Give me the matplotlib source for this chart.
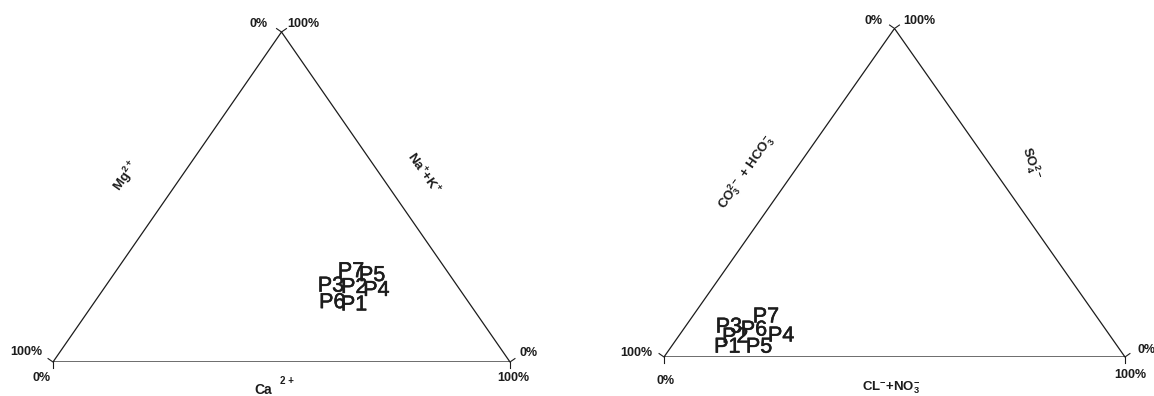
"""
Ternary diagrams of cation and anion composition (percent of meq/L) for
sampling points P1-P7. Left: Mg2+ / Ca2+ / Na+ + K+, right:
CO3 2- + HCO3- / Cl- + NO3- / SO4 2-. Writes out.png.
"""
import matplotlib.patheffects as pe
import matplotlib.pyplot as plt
import numpy as np

plt.rcParams["font.family"] = ["Liberation Sans", "DejaVu Sans"]
plt.rcParams["mathtext.default"] = "regular"

samples = ["P1", "P2", "P3", "P4", "P5", "P6", "P7"]

# cations, % of total
ca = [57.2, 54.6, 49.3, 59.9, 56.7, 52.1, 51.5]
mg = [25.5, 22.8, 27.7, 18.4, 17.1, 29.9, 21.1]
na_k = [17.3, 22.6, 23.0, 21.7, 26.2, 18.0, 27.4]

# anions, % of total
cl_no3 = [12.2, 12.4, 9.5, 22.2, 19.1, 15.4, 16.0]
co3_hco3 = [84.8, 81.5, 81.4, 71.4, 77.9, 76.4, 71.8]
so4 = [3.0, 6.1, 9.1, 6.4, 3.0, 8.2, 12.2]

FIG_W, FIG_H, DPI = 1154, 396, 100
INK = "#1c1c1c"
TICK_PX = 6


def to_xy(right, top):
    """Ternary -> cartesian for a triangle with corners (0,0), (1,0), (0.5,1).
    `right` is the bottom-right component, `top` the apex component (percent)."""
    right = np.asarray(right) / 100.0
    top = np.asarray(top) / 100.0
    return right + 0.5 * top, top


def draw_triangle(ax, box):
    """Outline plus short outward ticks at the corners."""
    ax.plot([0, 1, 0.5, 0], [0, 0, 1, 0], color=INK, lw=0.9, solid_joinstyle="miter")
    w_px, h_px = box[2] * FIG_W, box[3] * FIG_H
    # outward normals in pixel space, converted back to data units
    side_l = np.array([-h_px, 0.5 * w_px]) / np.hypot(h_px, 0.5 * w_px)
    side_r = np.array([h_px, 0.5 * w_px]) / np.hypot(h_px, 0.5 * w_px)
    side_b = np.array([0.0, -1.0])
    corners = {(0.0, 0.0): (side_b, side_l), (1.0, 0.0): (side_b, side_r),
               (0.5, 1.0): (side_l, side_r)}
    for (cx, cy), normals in corners.items():
        for n in normals:
            dx, dy = n * TICK_PX
            ax.plot([cx, cx + dx / w_px], [cy, cy + dy / h_px], color=INK, lw=0.8,
                    clip_on=False)


def corner_labels(ax, offsets):
    """offsets: {(corner x, corner y): [(text, dx px, dy px), ...]}"""
    for (cx, cy), items in offsets.items():
        for text, dx, dy in items:
            ax.annotate(text, (cx, cy), xytext=(dx, dy), textcoords="offset pixels",
                        ha="center", va="center", fontsize=9, fontweight="bold",
                        color=INK, annotation_clip=False)


def side_label(ax, text, anchor, offset, rotation, size=9.5):
    ax.annotate(text, anchor, xytext=offset, textcoords="offset pixels",
                ha="center", va="center", rotation=rotation, fontsize=size,
                fontweight="bold", color=INK, annotation_clip=False)


def sample_labels(ax, x, y):
    heavy = [pe.withStroke(linewidth=0.4, foreground=INK)]
    for name, px, py in zip(samples, x, y):
        ax.text(px, py, name, ha="center", va="center", fontsize=15.5, color=INK,
                clip_on=False, path_effects=heavy)


def setup_axes(fig, box):
    ax = fig.add_axes(box)
    ax.set_xlim(0, 1)
    ax.set_ylim(0, 1)
    ax.axis("off")
    return ax


fig = plt.figure(figsize=(FIG_W / DPI, FIG_H / DPI), dpi=DPI)

# --- cations --------------------------------------------------------------
box_cat = [53 / FIG_W, 34 / FIG_H, 457 / FIG_W, 330 / FIG_H]
ax1 = setup_axes(fig, box_cat)
draw_triangle(ax1, box_cat)
corner_labels(ax1, {
    (0.5, 1.0): [("0%", -23, 8), ("100%", 22, 8)],
    (0.0, 0.0): [("100%", -27, 10), ("0%", -11, -16)],
    (1.0, 0.0): [("0%", 19, 9), ("100%", 3, -16)],
})
side_label(ax1, "Ca", (0.5, 0.0), (-18, -28), 0, size=10)
side_label(ax1, "2 +", (0.5, 0.0), (5, -19), 0, size=7)
side_label(ax1, r"Mg$^{2+}$", (0.25, 0.5), (-41, 21), 55)
side_label(ax1, r"Na$^{+}$+K$^{+}$", (0.75, 0.5), (28, 24), -55)
x, y = to_xy(ca, na_k)
sample_labels(ax1, x, y)

# --- anions ---------------------------------------------------------------
box_an = [664 / FIG_W, 39 / FIG_H, 461 / FIG_W, 328.5 / FIG_H]
ax2 = setup_axes(fig, box_an)
draw_triangle(ax2, box_an)
corner_labels(ax2, {
    (0.5, 1.0): [("0%", -21, 7), ("100%", 25, 7)],
    (0.0, 0.0): [("100%", -28, 4), ("0%", 2, -24)],
    (1.0, 0.0): [("0%", 22, 7), ("100%", 5, -18)],
})
side_label(ax2, r"CL$^{-}$+NO$_3^{-}$", (0.5, 0.0), (-3, -31), 0)
side_label(ax2, r"CO$_3^{2-}$ + HCO$_3^{-}$", (0.25, 0.5), (-33, 20), 55)
side_label(ax2, r"SO$_4^{2-}$", (0.75, 0.5), (21, 30), -72)
x, y = to_xy(cl_no3, so4)
sample_labels(ax2, x, y)

fig.savefig("out.png", dpi=DPI, facecolor="white")
